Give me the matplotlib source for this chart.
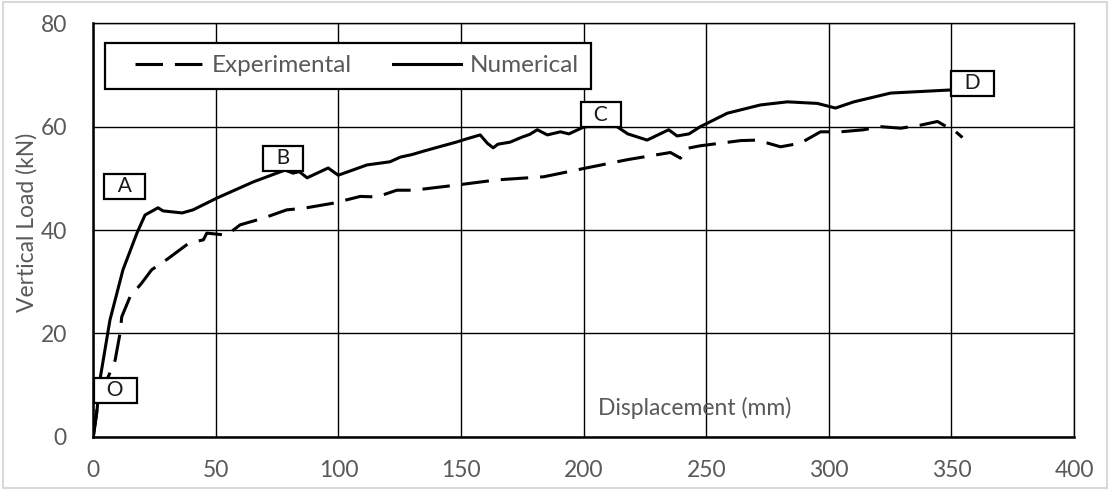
import matplotlib
matplotlib.use("Agg")
import matplotlib.pyplot as plt
from matplotlib.patches import Rectangle
from matplotlib.legend_handler import HandlerLine2D

# ---- data ----
num_x = [0, 1.4, 2.7, 6.8, 12.1, 17.8, 21.1, 26.4, 28.4, 36.2, 40.7, 50.5, 65.2,
         78.2, 81.5, 84.0, 87.2, 95.8, 99.9, 111.7, 121.0, 125.2, 130.0, 135.0,
         140.3, 148.0, 152.0, 157.8, 160.7, 163.1, 165.0, 170.0, 175.0, 178.0,
         181.1, 185.2, 190.5, 194.0, 199.9, 205.0, 213.6, 218.0, 225.9, 234.7,
         238.1, 243.0, 247.6, 258.6, 272.1, 283.1, 295.3, 302.7, 310.2, 325.2, 349.7]
num_y = [0, 4.6, 11.0, 22.6, 32.3, 39.4, 42.9, 44.3, 43.7, 43.3, 43.9, 46.2, 49.3,
         51.6, 51.0, 51.3, 50.1, 52.0, 50.6, 52.6, 53.2, 54.1, 54.6, 55.3,
         56.0, 57.0, 57.6, 58.4, 56.8, 55.9, 56.6, 57.0, 58.0, 58.5,
         59.4, 58.4, 59.0, 58.6, 59.9, 60.3, 60.0, 58.6, 57.4, 59.4,
         58.2, 58.6, 60.0, 62.6, 64.2, 64.8, 64.5, 63.6, 64.8, 66.5, 67.1]

exp_x = [0, 2.0, 4.0, 6.1, 8.9, 10.9, 11.6, 15.0, 19.7, 23.8, 30.6, 38.8, 44.9, 46.3,
         54.4, 59.9, 69.4, 78.9, 85.7, 98.0, 108.9, 115.7, 123.8, 130.6, 148.3,
         164.6, 183.7, 200.0, 217.7, 235.4, 239.5, 242.2, 247.6, 264.0, 270.8,
         280.3, 288.4, 296.6, 304.8, 314.3, 321.1, 329.3, 337.5, 344.3, 346.9,
         351.8, 354.5]
exp_y = [0, 7.0, 10.0, 11.6, 14.8, 20.0, 23.2, 27.1, 29.7, 32.3, 34.5, 37.4, 38.1, 39.4,
         39.0, 41.0, 42.3, 43.9, 44.2, 45.2, 46.5, 46.4, 47.7, 47.7, 48.7,
         49.7, 50.3, 51.9, 53.6, 55.0, 53.9, 55.8, 56.3, 57.3, 57.4,
         56.1, 56.8, 59.0, 59.0, 59.4, 60.0, 59.7, 60.3, 61.0, 60.3,
         59.0, 57.9]

point_labels = ["A", "B", "C", "D", "O"]
point_label_x = [12.7, 77.4, 207.0, 358.6, 9.0]
point_label_y = [48.5, 53.9, 62.3, 68.4, 9.0]

x_ticks = [0, 50, 100, 150, 200, 250, 300, 350, 400]
y_ticks = [0, 20, 40, 60, 80]

# ---- styling ----
plt.rcParams['font.family'] = ['Lato', 'DejaVu Sans']
GREY = '#595959'

fig = plt.figure(figsize=(11.1, 4.9), dpi=100)
ax = fig.add_axes([93.3 / 1110, 53.3 / 490, 980.7 / 1110, 413.4 / 490])

l_exp, = ax.plot(exp_x, exp_y, color='black', lw=2.2, linestyle=(0, (9, 3.9)),
                 label='Experimental', zorder=3, dash_capstyle='butt')
l_num, = ax.plot(num_x, num_y, color='black', lw=2.2, linestyle='-',
                 label='Numerical', zorder=3, solid_joinstyle='round')

ax.set_xlim(0, 400)
ax.set_ylim(0, 80)
ax.set_xticks(x_ticks)
ax.set_yticks(y_ticks)
ax.grid(True, color='black', lw=1.0, zorder=1)
ax.set_axisbelow(True)
for s in ax.spines.values():
    s.set_color('black')
    s.set_linewidth(1.0)
ax.spines['left'].set_linewidth(1.8)
ax.spines['bottom'].set_linewidth(1.8)
ax.tick_params(axis='both', length=0, labelsize=16.5, colors=GREY)
ax.tick_params(axis='y', pad=19)
ax.tick_params(axis='x', pad=17)

ax.set_ylabel('Vertical Load (kN)', fontsize=16.5, color=GREY)
ax.yaxis.set_label_coords(-0.057, 0.519)
ax.text(245.2, 5.55, 'Displacement (mm)', fontsize=16.5, color=GREY,
        ha='center', va='center', zorder=4)

for lab, lx, ly in zip(point_labels, point_label_x, point_label_y):
    ax.text(lx, ly, '  ' + lab + '  ', fontsize=15, color='#1a1a1a', ha='center',
            va='center', zorder=5,
            bbox=dict(boxstyle='square,pad=0.12', facecolor='white',
                      edgecolor='black', lw=1.6))

leg_w = (591 - 105) / 980.7
leg_h = (95 - 43.3) / 413.4
leg_top = (436.7 - 43.3) / 413.4
hmap = {l_exp: HandlerLine2D(xpad=0.74), l_num: HandlerLine2D(xpad=0.74)}
leg = ax.legend(loc='upper left', bbox_to_anchor=(0.0119, leg_top - leg_h, leg_w, leg_h),
                mode='expand', borderaxespad=0, handler_map=hmap,
                ncol=2, fontsize=17.5, handlelength=3.54, handletextpad=0.37,
                columnspacing=0.5, borderpad=0.5, fancybox=False,
                frameon=True, labelcolor=GREY)
leg.get_frame().set_edgecolor('black')
leg.get_frame().set_linewidth(1.6)
leg.get_frame().set_alpha(1)
leg.set_zorder(6)

fig.patches.append(Rectangle((0.003, 0.005), 0.994, 0.99, transform=fig.transFigure,
                             fill=False, edgecolor='#d9d9d9', lw=1.5))

fig.savefig('out.png', dpi=100)
